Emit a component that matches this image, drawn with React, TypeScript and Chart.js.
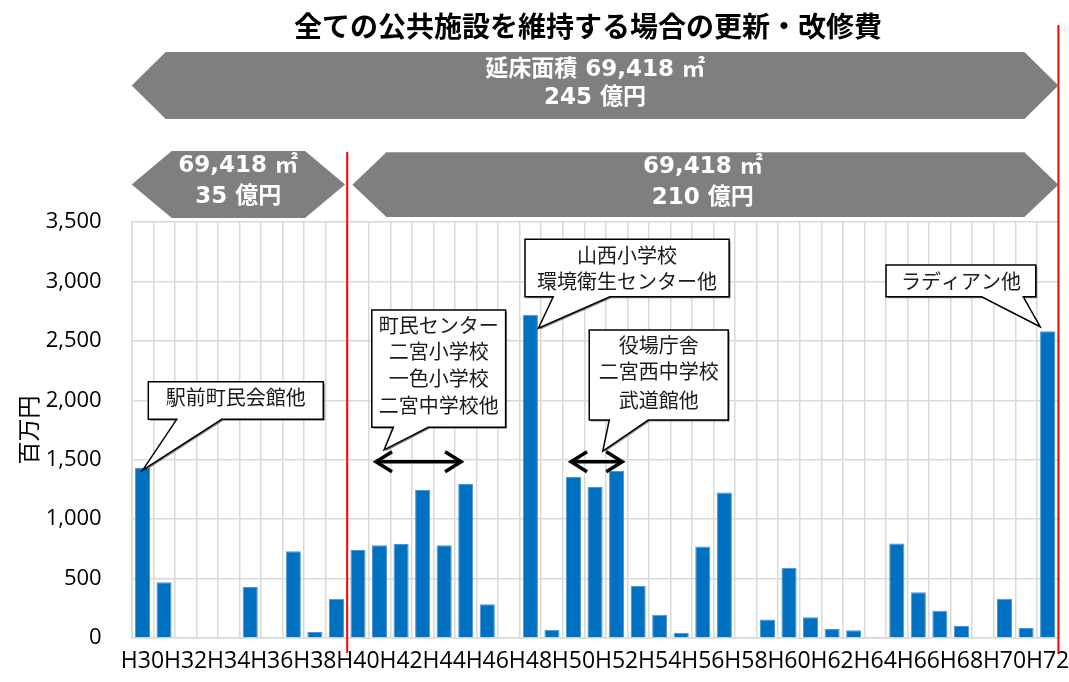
import React, { useEffect, useRef } from "react";
import { Chart, registerables } from "chart.js";

Chart.register(...registerables);

// ---- data ----
const years = [
  "H30", "H31", "H32", "H33", "H34", "H35", "H36", "H37", "H38", "H39",
  "H40", "H41", "H42", "H43", "H44", "H45", "H46", "H47", "H48", "H49",
  "H50", "H51", "H52", "H53", "H54", "H55", "H56", "H57", "H58", "H59",
  "H60", "H61", "H62", "H63", "H64", "H65", "H66", "H67", "H68", "H69",
  "H70", "H71", "H72",
];
const costs = [
  1430, 470, 0, 0, 0, 430, 0, 730, 50, 330,
  740, 780, 790, 1245, 780, 1295, 285, 0, 2720, 70,
  1355, 1270, 1405, 440, 195, 45, 770, 1225, 0, 155,
  590, 175, 75, 65, 5, 795, 385, 230, 100, 0,
  330, 85, 2580,
];
const yTicksMax = 3500;
const yTickStep = 500;
const yAxisTitle = "百万円";
const chartTitle = "全ての公共施設を維持する場合の更新・改修費";

// annotations, positioned in (category-boundary index, value) units
const bands = [
  { from: 0, to: 43, top: 4930, bottom: 4367, head: 34, center: 21.5, lines: ["延床面積 69,418 ㎡", "245 億円"], lineValues: [4779, 4543] },
  { from: 0, to: 9.9, top: 4097, bottom: 3534, head: 40, center: 4.94, lines: ["69,418 ㎡", "35 億円"], lineValues: [3971, 3713] },
  { from: 10.24, to: 43, top: 4086, bottom: 3542, head: 34, center: 26.5, lines: ["69,418 ㎡", "210 億円"], lineValues: [3963, 3702] },
];
const redLines = [
  { at: 10, top: 4089, bottom: -126 },
  { at: 43, top: 5157, bottom: -126 },
];
const callouts = [
  { box: [0.77, 8.89, 2156, 1840], base: [2.09, 4.18], tip: [0.51, 1413], lines: ["駅前町民会館他"], lineValues: [2028] },
  { box: [11.14, 17.35, 2760, 1773], base: [12.14, 13.76], tip: [11.71, 1582], lines: ["町民センター", "二宮小学校", "一色小学校", "二宮中学校他"], lineValues: [2633, 2409, 2185, 1960] },
  { box: [18.25, 27.72, 3354, 2871], base: [19.56, 22.19], tip: [18.87, 2606], lines: ["山西小学校", "環境衛生センター他"], lineValues: [3222, 2998] },
  { box: [21.23, 27.68, 2591, 1834], base: [22.16, 23.97], tip: [21.86, 1573], lines: ["役場庁舎", "二宮西中学校", "武道館他"], lineValues: [2465, 2240, 2002] },
  { box: [35.0, 41.95, 3138, 2871], base: [39.44, 41.37], tip: [42.15, 2619], lines: ["ラディアン他"], lineValues: [3004] },
];
const spanArrows = [
  { from: 11.29, to: 15.33, value: 1482 },
  { from: 20.34, to: 22.81, value: 1483 },
];
const titlePos = { at: 21.17, value: 5149 };

const JP = '"Noto Sans CJK JP", "Noto Sans", sans-serif';
const BANDFONT = 'bold 23px "DejaVu Sans", "Noto Sans CJK JP", sans-serif';

const annotationPlugin = {
  id: "annotations",
  afterDraw(chart: any) {
    const { ctx } = chart;
    const xs = chart.scales.x;
    const ys = chart.scales.y;
    const px = (b: number) => xs.getPixelForValue(b - 0.5);
    const py = (v: number) => ys.getPixelForValue(v);
    ctx.save();

    // red vertical lines
    ctx.strokeStyle = "#ff0000";
    ctx.lineWidth = 2;
    redLines.forEach((r) => {
      const x = px(r.at);
      ctx.beginPath();
      ctx.moveTo(x, py(r.top));
      ctx.lineTo(x, py(r.bottom));
      ctx.stroke();
    });

    // gray band arrows
    bands.forEach((b) => {
      const l = px(b.from), r = px(b.to), t = py(b.top), btm = py(b.bottom);
      const m = (t + btm) / 2;
      ctx.fillStyle = "#7f7f7f";
      ctx.beginPath();
      ctx.moveTo(l, m);
      ctx.lineTo(l + b.head, t);
      ctx.lineTo(r - b.head, t);
      ctx.lineTo(r, m);
      ctx.lineTo(r - b.head, btm);
      ctx.lineTo(l + b.head, btm);
      ctx.closePath();
      ctx.fill();
      ctx.fillStyle = "#ffffff";
      ctx.font = BANDFONT;
      ctx.textAlign = "center";
      ctx.textBaseline = "middle";
      b.lines.forEach((s, i) => ctx.fillText(s, px(b.center), py(b.lineValues[i])));
    });

    // callouts
    callouts.forEach((c) => {
      const l = px(c.box[0]), r = px(c.box[1]), t = py(c.box[2]), btm = py(c.box[3]);
      const b1 = px(c.base[0]), b2 = px(c.base[1]);
      const tx = px(c.tip[0]), ty = py(c.tip[1]);
      ctx.beginPath();
      ctx.moveTo(l, t);
      ctx.lineTo(r, t);
      ctx.lineTo(r, btm);
      ctx.lineTo(b2, btm);
      ctx.lineTo(tx, ty);
      ctx.lineTo(b1, btm);
      ctx.lineTo(l, btm);
      ctx.closePath();
      ctx.fillStyle = "#ffffff";
      ctx.shadowColor = "rgba(0,0,0,0.45)";
      ctx.shadowOffsetX = 1.5;
      ctx.shadowOffsetY = 1.5;
      ctx.shadowBlur = 0;
      ctx.fill();
      ctx.shadowColor = "transparent";
      ctx.strokeStyle = "#000000";
      ctx.lineWidth = 1.5;
      ctx.lineJoin = "miter";
      ctx.stroke();
      ctx.fillStyle = "#1a1a1a";
      ctx.font = `20px ${JP}`;
      ctx.textAlign = "center";
      ctx.textBaseline = "middle";
      c.lines.forEach((s, i) => ctx.fillText(s, (l + r) / 2, py(c.lineValues[i])));
    });

    // black double arrows
    ctx.strokeStyle = "#000000";
    ctx.lineWidth = 3.5;
    ctx.lineCap = "butt";
    ctx.lineJoin = "miter";
    spanArrows.forEach((a) => {
      const l = px(a.from), r = px(a.to), y = py(a.value);
      ctx.beginPath();
      ctx.moveTo(l + 1, y);
      ctx.lineTo(r - 1, y);
      ctx.stroke();
      ctx.beginPath();
      ctx.moveTo(l + 17, y - 10);
      ctx.lineTo(l + 1, y);
      ctx.lineTo(l + 17, y + 10);
      ctx.stroke();
      ctx.beginPath();
      ctx.moveTo(r - 17, y - 10);
      ctx.lineTo(r - 1, y);
      ctx.lineTo(r - 17, y + 10);
      ctx.stroke();
    });

    // title
    ctx.fillStyle = "#000000";
    ctx.font = `bold 28px ${JP}`;
    ctx.textAlign = "center";
    ctx.textBaseline = "middle";
    ctx.fillText(chartTitle, px(titlePos.at), py(titlePos.value));

    ctx.restore();
  },
};

export default function App() {
  const ref = useRef<HTMLCanvasElement | null>(null);
  useEffect(() => {
    if (!ref.current) return;
    const chart = new Chart(ref.current, {
      type: "bar",
      data: {
        labels: years,
        datasets: [
          {
            data: costs,
            backgroundColor: "#0070c0",
            borderColor: "#4a94d4",
            borderWidth: 1,
            categoryPercentage: 1,
            barPercentage: 0.7,
          },
        ],
      },
      options: {
        animation: false,
        responsive: false,
        devicePixelRatio: 1,
        layout: { padding: { top: 222, right: 10.6, left: 0, bottom: 0 } },
        plugins: {
          legend: { display: false },
          tooltip: { enabled: false },
        },
        scales: {
          x: {
            grid: { color: "#d9d9d9", lineWidth: 1.5, drawTicks: false, offset: true },
            border: { color: "#d9d9d9", width: 1.5 },
            ticks: {
              autoSkip: false,
              maxRotation: 0,
              minRotation: 0,
              padding: 10,
              color: "#000000",
              font: { family: '"Open Sans", sans-serif', size: 23 },
              callback: (_v: any, i: number) => (i % 2 === 0 ? years[i] : ""),
            },
            afterFit: (s: any) => {
              s.height = 44;
              s.paddingLeft = 0;
              s.paddingRight = 0;
            },
          },
          y: {
            min: 0,
            max: yTicksMax,
            grid: { color: "#d9d9d9", lineWidth: 1.5, drawTicks: false },
            border: { color: "#d9d9d9", width: 1.5 },
            ticks: {
              stepSize: yTickStep,
              padding: 30,
              color: "#000000",
              font: { family: '"Open Sans", sans-serif', size: 22 },
              callback: (v: any) => Number(v).toLocaleString("en-US"),
            },
            title: {
              display: true,
              text: yAxisTitle,
              color: "#000000",
              font: { family: JP, size: 23 },
              padding: 14,
            },
            afterFit: (s: any) => {
              s.width = 131.7;
            },
          },
        },
      },
      plugins: [annotationPlugin],
    });
    return () => chart.destroy();
  }, []);
  return (
    <div style={{ position: "fixed", left: 0, top: 0, width: 1069, height: 682, background: "#ffffff" }}>
      <canvas ref={ref} width={1069} height={682} style={{ width: 1069, height: 682, display: "block" }} />
    </div>
  );
}
